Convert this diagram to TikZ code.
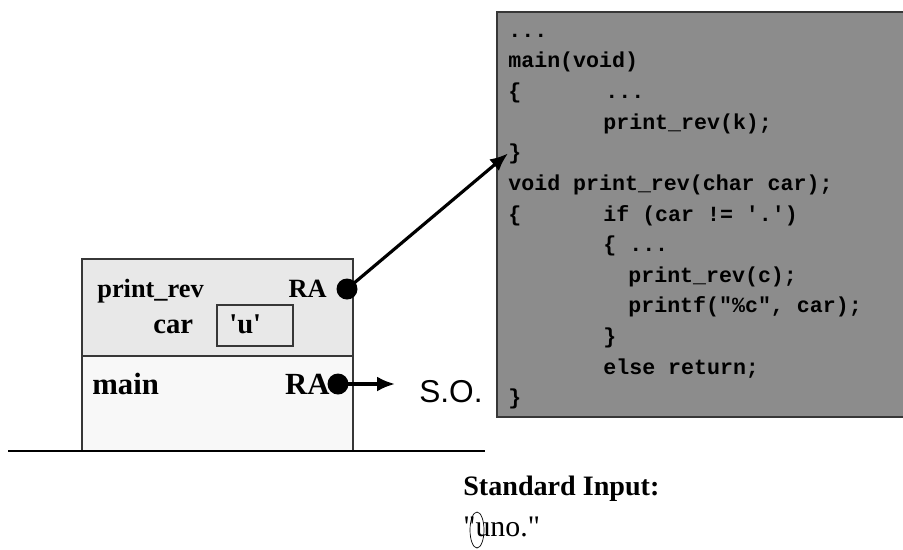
\documentclass[tikz,border=0pt]{standalone}
\usepackage{fontspec}
\setmainfont{Liberation Serif}[Ligatures=TeXOff]
\setsansfont{Liberation Sans}
\setmonofont{Liberation Mono}
\usetikzlibrary{arrows,arrows.meta}
\usetikzlibrary{shapes.geometric,positioning}

\definecolor{codegray}{RGB}{140,140,140}
\definecolor{framegray}{RGB}{232,232,232}
\definecolor{basegray}{RGB}{248,248,248}
\definecolor{edgegray}{RGB}{55,55,55}

\tikzset{
  code/.style={anchor=base west,inner sep=0pt,font=\ttfamily\bfseries\fontsize{12.3}{14}\selectfont},
  frametext/.style={anchor=base west,inner sep=0pt,font=\bfseries\fontsize{15}{18}\selectfont},
  bigtext/.style={frametext,font=\bfseries\fontsize{17.5}{21}\selectfont},
  radot/.style={circle,fill=black,inner sep=0pt,minimum size=0.42cm},
  callarrow/.style={-{Latex[length=0.36cm,width=0.3cm]},line width=1.8pt},
}

\begin{document}
\begin{tikzpicture}[x=0.02cm,y=-0.02cm]
		\useasboundingbox (0,0) rectangle (903,549);

		% code
		\draw[fill=codegray,draw=edgegray,line width=1pt] (497,12) rectangle (915,417);
		\node[code] (dots) at (508,37) {...};
		\node[code] (mainhead) at (508,67.6) {main(void)};
		\node[code] (open1) at (508,98) {\{};
		\node[code] (dots2) at (605,98) {...};
		\node[code] (callk) at (603,129) {print\_rev(k);};
		\node[code] (close1) at (508,159) {\}};
		\node[code] (revhead) at (508,190) {void print\_rev(char car);};
		\node[code] (open2) at (508,221) {\{};
		\node[code] (iftest) at (603,221) {if (car != '.')};
		\node[code] (open3) at (603,251) {\{ ...};
		\node[code] (callc) at (628,282) {print\_rev(c);};
		\node[code] (printc) at (628,312) {printf("\%c", car);};
		\node[code] (close3) at (603,343) {\}};
		\node[code] (elseret) at (603,374) {else return;};
		\node[code] (close2) at (508,404) {\}};

		% stack
		\draw[fill=framegray,draw=edgegray,line width=0.8pt] (82,259) rectangle (353,356);
		\draw[fill=basegray,draw=edgegray,line width=0.8pt] (82,356) rectangle (353,451);
		\draw[line width=0.8pt] (8,451) -- (485,451);

		\node[frametext] (revname) at (97,297) {print\_rev};
		\node[frametext,anchor=base east] (revra) at (327,297) {RA};
		\node[radot] (revdot) at (347,289) {};
		\node[frametext,font=\bfseries\fontsize{16.3}{19}\selectfont] (carname) at (153,333) {car};
		\draw[draw=edgegray,line width=0.8pt] (217,305) rectangle (293,346);
		\node[frametext,font=\bfseries\fontsize{16.3}{19}\selectfont] (carval) at (229,333) {'u'};

		\node[bigtext] (mainname) at (92,394) {main};
		\node[bigtext,anchor=base east] (mainra) at (330,394) {RA};
		\node[radot] (maindot) at (338,384) {};
		\node[anchor=base west,inner sep=0pt,font=\sffamily\fontsize{18}{21}\selectfont] (so) at (419,402) {S.O.};

		\draw[callarrow] (revdot.center) -- (close1.west);
		\draw[callarrow,shorten >=0.48cm] (maindot.center) -- (maindot -| so.west);

		% input
		\node[anchor=base west,inner sep=0pt,font=\bfseries\fontsize{16}{19}\selectfont] (stdin) at (463,495) {Standard Input:};
		\node[anchor=base west,inner sep=0pt,font=\fontsize{17}{20}\selectfont] (input) at (463,536) {"uno."};
		\node[draw,ellipse,inner sep=0pt,minimum width=0.28cm,minimum height=0.72cm] (mark) at (477,530) {};
	\end{tikzpicture}
\end{document}
